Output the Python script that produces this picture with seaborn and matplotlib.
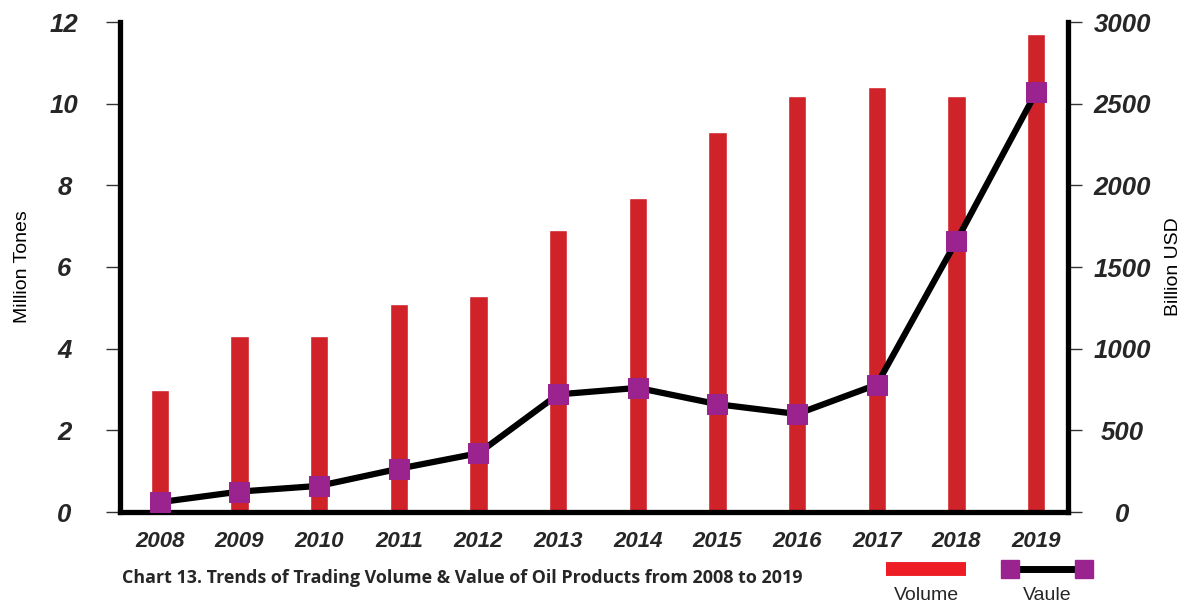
import numpy as np
import matplotlib
matplotlib.use("Agg")
import matplotlib.pyplot as plt
import seaborn as sns
from matplotlib.lines import Line2D

years = ["2008", "2009", "2010", "2011", "2012", "2013",
         "2014", "2015", "2016", "2017", "2018", "2019"]
volume = [3.0, 4.3, 4.3, 5.1, 5.3, 6.9, 7.7, 9.3, 10.2, 10.4, 10.2, 11.7]
value = [60, 125, 160, 265, 360, 720, 760, 660, 600, 780, 1660, 2570]
left_ticks = [0, 2, 4, 6, 8, 10, 12]
right_ticks = [0, 500, 1000, 1500, 2000, 2500, 3000]

BAR = "#CF2229"
LEG_RED = "#EE1C25"
PURPLE = "#9B2390"

sns.set_theme(style="white")
plt.rcParams["font.family"] = ["Liberation Sans", "DejaVu Sans"]

fig = plt.figure(figsize=(11.9, 6.08), dpi=100)
ax = fig.add_axes([120 / 1190, 96 / 608, 948 / 1190, 490 / 608])

sns.barplot(x=years, y=volume, color=BAR, width=0.23, saturation=1,
            ax=ax, zorder=2)
ax.set_xlim(-0.5, 11.4)
ax.set_ylim(0, 12)
ax.set_yticks(left_ticks)
ax.set_yticklabels([str(t) for t in left_ticks])
ax.set_ylabel("Million Tones", fontsize=14, labelpad=14)
ax.set_xlabel("")

ax2 = ax.twinx()
sns.lineplot(x=np.arange(len(years)), y=value, ax=ax2, color="black",
             linewidth=4.5, marker="s", markersize=14,
             markerfacecolor=PURPLE, markeredgecolor=PURPLE, zorder=5)
ax2.set_ylim(0, 3000)
ax2.set_yticks(right_ticks)
ax2.set_yticklabels([str(t) for t in right_ticks])
ax2.set_ylabel("Billion USD", fontsize=14, rotation=90, labelpad=10)
ax2.set_xlim(-0.5, 11.4)

for a in (ax, ax2):
    for s in a.spines.values():
        s.set_visible(False)
ax.spines["left"].set_visible(True)
ax.spines["left"].set_linewidth(3.8)
ax.spines["left"].set_color("black")
ax.spines["bottom"].set_visible(True)
ax.spines["bottom"].set_linewidth(3.8)
ax.spines["bottom"].set_color("black")
ax2.spines["right"].set_visible(True)
ax2.spines["right"].set_linewidth(3.8)
ax2.spines["right"].set_color("black")

ax.tick_params(axis="y", which="major", left=True, length=10, width=1,
               color="#333333", pad=30, labelsize=18.5)
for lbl in ax.get_yticklabels():
    lbl.set_fontweight("bold")
    lbl.set_fontstyle("italic")
    lbl.set_horizontalalignment("center")
ax2.tick_params(axis="y", which="major", right=True, length=10, width=1,
                color="#333333", pad=29, labelsize=18.5)
for lbl in ax2.get_yticklabels():
    lbl.set_fontweight("bold")
    lbl.set_fontstyle("italic")
    lbl.set_horizontalalignment("center")
ax.tick_params(axis="x", bottom=False, pad=8, labelsize=16)
for lbl in ax.get_xticklabels():
    lbl.set_fontweight("bold")
    lbl.set_fontstyle("italic")

ax.yaxis.label.set_color("black")
ax2.yaxis.label.set_color("black")

fig.text(122 / 1190, 1 - 578 / 608,
         "Chart 13. Trends of Trading Volume & Value of Oil Products from 2008 to 2019",
         fontsize=12.9, fontweight="bold", family=["Open Sans", "DejaVu Sans"],
         va="center", ha="left")

h1 = Line2D([], [], color=LEG_RED, linewidth=10, solid_capstyle="butt")
h2 = Line2D([], [], color="black", linewidth=5, marker="s", markersize=13,
            markerfacecolor=PURPLE, markeredgecolor=PURPLE)
fig.legend(handles=[h1], labels=[""], loc="center",
           bbox_to_anchor=(926 / 1190, 1 - 570 / 608), frameon=False,
           handlelength=5.2, handletextpad=0, borderpad=0)
fig.legend(handles=[h2], labels=[""], loc="center",
           bbox_to_anchor=(1047 / 1190, 1 - 570 / 608), frameon=False,
           handlelength=5.5, handletextpad=0, borderpad=0, numpoints=2)
fig.text(926 / 1190, 1 - 596 / 608, "Volume", fontsize=14, ha="center", va="center")
fig.text(1047 / 1190, 1 - 596 / 608, "Vaule", fontsize=14, ha="center", va="center")

fig.savefig("out.png", dpi=100)
